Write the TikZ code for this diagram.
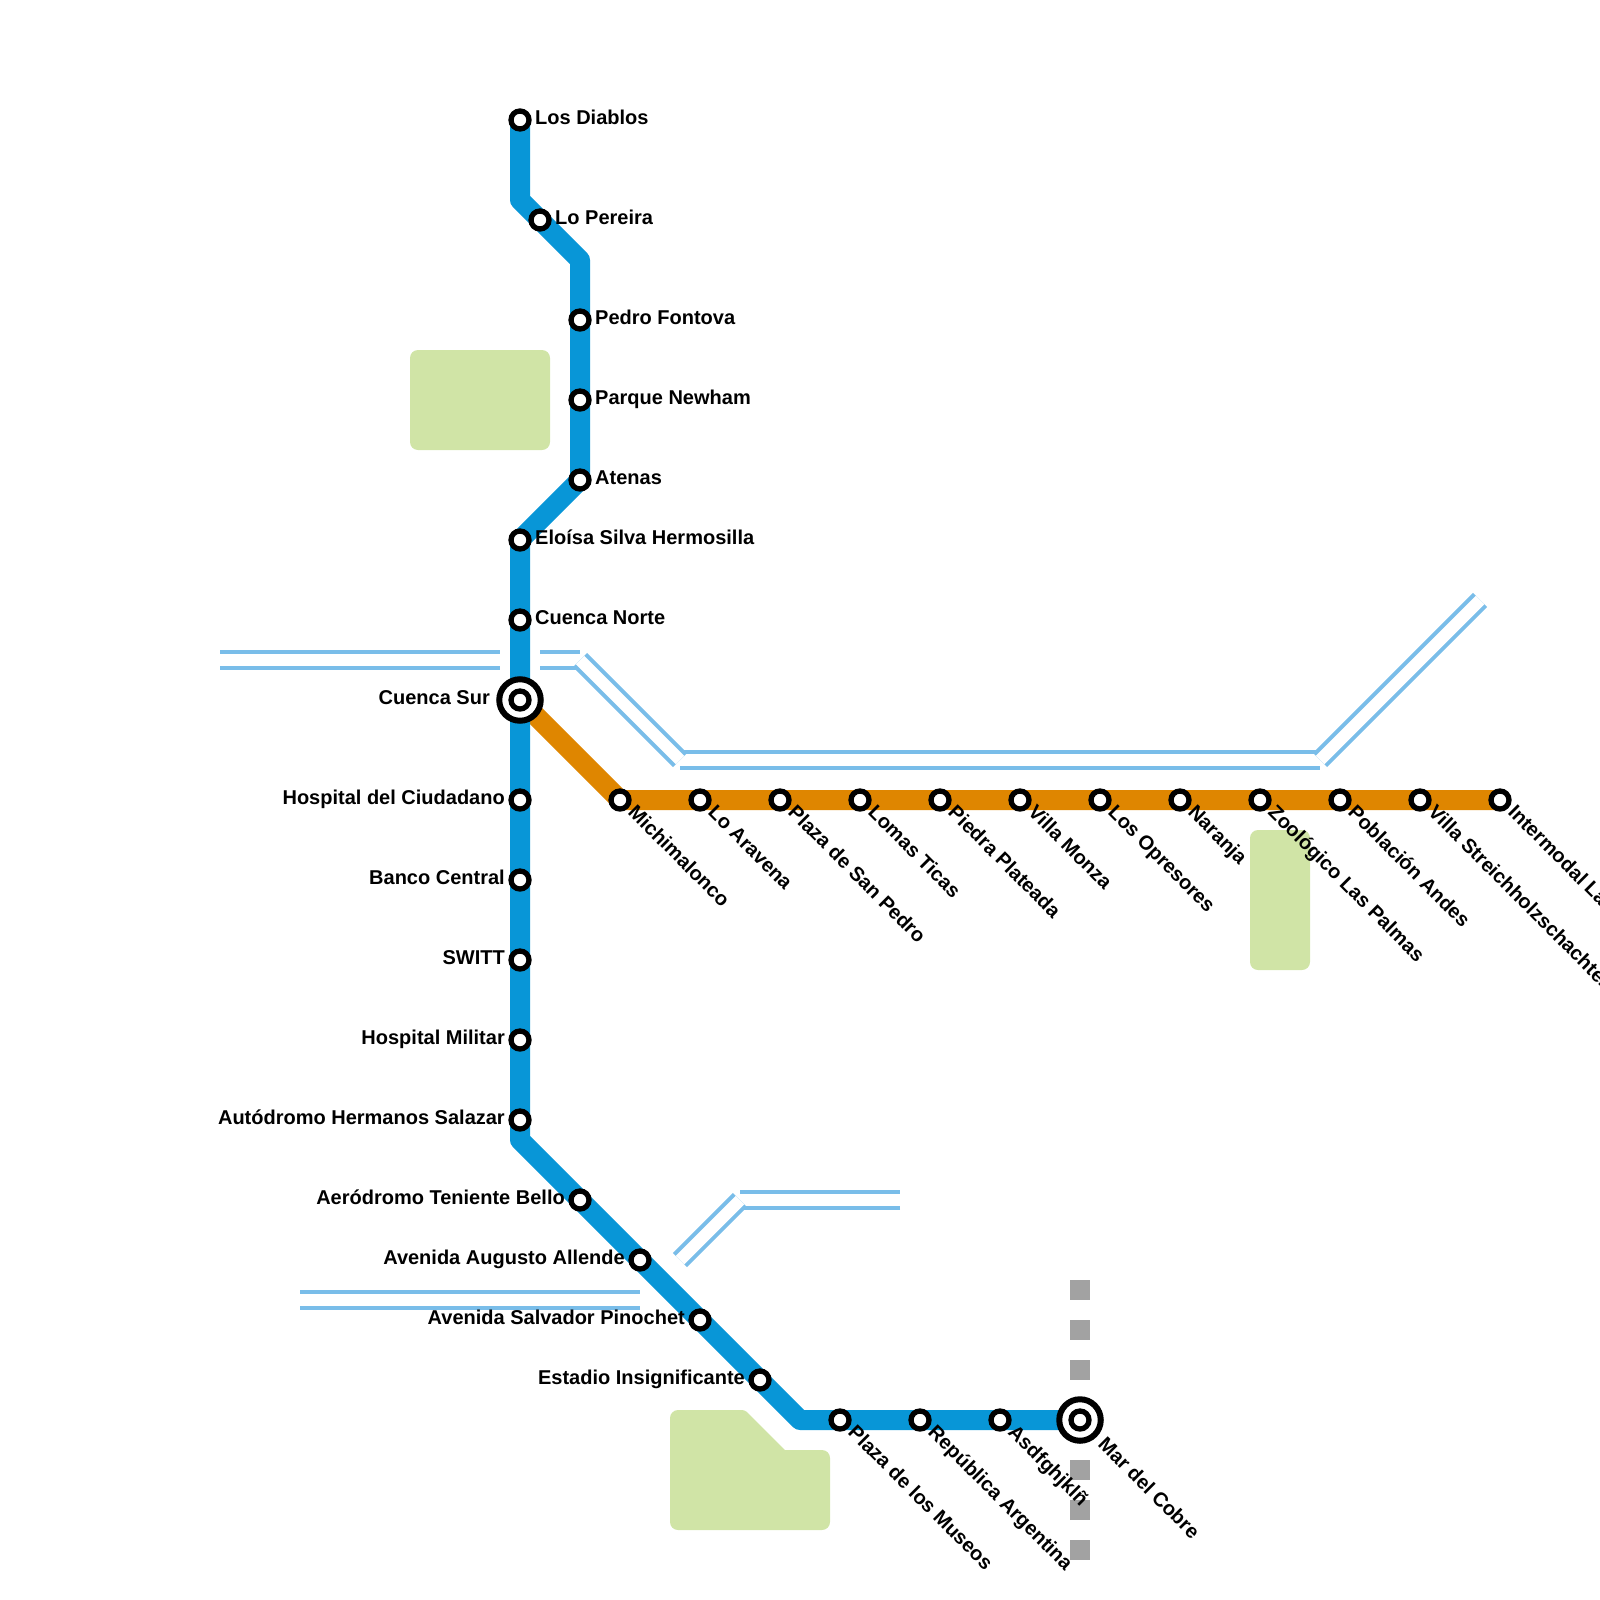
\documentclass[tikz,border=0pt]{standalone}
\usepackage{fontspec}
\setmainfont{Liberation Sans}
\usetikzlibrary{backgrounds}
\definecolor{lineblue}{HTML}{0896D7}
\definecolor{lineorange}{HTML}{DF8600}
\definecolor{riverblue}{HTML}{79BDE9}
\definecolor{parkgreen}{HTML}{D0E4A6}
\definecolor{stubgray}{HTML}{A2A2A2}
\tikzset{
  stn/.style={circle,draw=black,fill=white,line width=5.3pt,inner sep=0pt,outer sep=0pt,minimum size=18pt},
  hub/.style={circle,draw=black,fill=white,line width=6pt,inner sep=0pt,outer sep=0pt,minimum size=41.5pt},
  lab/.style={font=\fontsize{20}{24}\bfseries\selectfont,inner sep=0pt,text=black},
  labR/.style={lab,anchor=base west},
  labL/.style={lab,anchor=base east},
  labD/.style={lab,anchor=base west,rotate=-45},
  metro/.style={line width=20pt,line join=round},
  stub/.style={line width=20pt,stubgray,dash pattern=on 20pt off 20pt},
}
\newcommand{\riverseg}[2]{%
  \draw[riverblue,line width=20pt] (#1) -- (#2);
  \draw[white,line width=12pt] (#1) -- (#2);
}
\newcommand{\st}[4]{%
  \node[stn] (#1) at (#2,#3) {};
  \node[labR] (#1-l) at (#2+15,#3+4.6) {#4};
}
\newcommand{\stL}[4]{%
  \node[stn] (#1) at (#2,#3) {};
  \node[labL] (#1-l) at (#2-15,#3+4.6) {#4};
}
\newcommand{\stD}[4]{%
  \node[stn] (#1) at (#2,#3) {};
  \node[labD] (#1-l) at (#2+7,#3+13.5) {#4};
}
\begin{document}
\begin{tikzpicture}[x=1pt,y=-1pt]
\useasboundingbox (0,0) rectangle (1600,1600);
\clip (0,0) rectangle (1600,1600);
\st{diablos}{520}{120}{Los Diablos}
\st{pereira}{540}{220}{Lo Pereira}
\st{fontova}{580}{320}{Pedro Fontova}
\st{newham}{580}{400}{Parque Newham}
\st{atenas}{580}{480}{Atenas}
\st{eloisa}{520}{540}{Eloísa Silva Hermosilla}
\st{norte}{520}{620}{Cuenca Norte}
\node[hub] (sur) at (520,700) {};
\node[stn] (surin) at (520,700) {};
\node[labL] (sur-l) at (490,704.6) {Cuenca Sur};
\stL{ciudadano}{520}{800}{Hospital del Ciudadano}
\stL{banco}{520}{880}{Banco Central}
\stL{switt}{520}{960}{SWITT}
\stL{militar}{520}{1040}{Hospital Militar}
\stL{autodromo}{520}{1120}{Autódromo Hermanos Salazar}
\stL{bello}{580}{1200}{Aeródromo Teniente Bello}
\stL{allende}{640}{1260}{Avenida Augusto Allende}
\stL{pinochet}{700}{1320}{Avenida Salvador Pinochet}
\stL{estadio}{760}{1380}{Estadio Insignificante}
\stD{museos}{840}{1420}{Plaza de los Museos}
\stD{republica}{920}{1420}{República Argentina}
\stD{asdf}{1000}{1420}{Asdfghjklñ}
\node[hub] (cobre) at (1080,1420) {};
\node[stn] (cobrein) at (1080,1420) {};
\node[labD] (cobre-l) at (1097,1445.5) {Mar del Cobre};
\stD{michi}{620}{800}{Michimalonco}
\stD{aravena}{700}{800}{Lo Aravena}
\stD{sanpedro}{780}{800}{Plaza de San Pedro}
\stD{ticas}{860}{800}{Lomas Ticas}
\stD{plateada}{940}{800}{Piedra Plateada}
\stD{monza}{1020}{800}{Villa Monza}
\stD{opresores}{1100}{800}{Los Opresores}
\stD{naranja}{1180}{800}{Naranja}
\stD{zoo}{1260}{800}{Zoológico Las Palmas}
\stD{andes}{1340}{800}{Población Andes}
\stD{villa}{1420}{800}{Villa Streichholzschachtel}
\stD{intermodal}{1500}{800}{Intermodal La Paz}
\begin{pgfonlayer}{background}
  \fill[parkgreen,rounded corners=8pt] (410,350) rectangle (550,450);
  \fill[parkgreen,rounded corners=8pt] (1250,830) rectangle (1310,970);
  \fill[parkgreen,rounded corners=8pt] (670,1470) -- (670,1410) [rounded corners=3pt] -- (745,1410) [sharp corners] -- (785,1450) [rounded corners=8pt] -- (830,1450) -- (830,1530) -- (670,1530) -- cycle;
  \coordinate (r1a) at (220,660); \coordinate (r1b) at (500,660);
  \coordinate (r1c) at (540,660); \coordinate (r1d) at (580,660);
  \coordinate (r1e) at (680,760); \coordinate (r1f) at (1320,760);
  \coordinate (r1g) at (1480,600);
  \coordinate (r2a) at (900,1200); \coordinate (r2b) at (740,1200);
  \coordinate (r2c) at (680,1260);
  \coordinate (r3a) at (300,1300); \coordinate (r3b) at (640,1300);
  \riverseg{r1a}{r1b}
  \riverseg{r1c}{r1d}
  \riverseg{r1e}{r1f}
  \riverseg{r1d}{r1e}
  \riverseg{r1f}{r1g}
  \riverseg{r2a}{r2b}
  \riverseg{r2b}{r2c}
  \riverseg{r3a}{r3b}
  \coordinate (g1) at (1080,1280); \coordinate (g2) at (1080,1560);
  \draw[stub] (g1) -- (cobre.center);
  \draw[stub] (g2) -- (cobre.center);
  \coordinate (b1) at (520,200); \coordinate (b2) at (580,260);
  \coordinate (b3) at (520,1140); \coordinate (b4) at (800,1420);
  \draw[metro,lineorange] (sur.center) -- (michi.center) -- (intermodal.center);
  \draw[metro,lineblue] (diablos.center) -- (b1) -- (b2) -- (atenas.center) -- (eloisa.center) -- (b3) -- (b4) -- (cobre.center);
\end{pgfonlayer}
\end{tikzpicture}
\end{document}
